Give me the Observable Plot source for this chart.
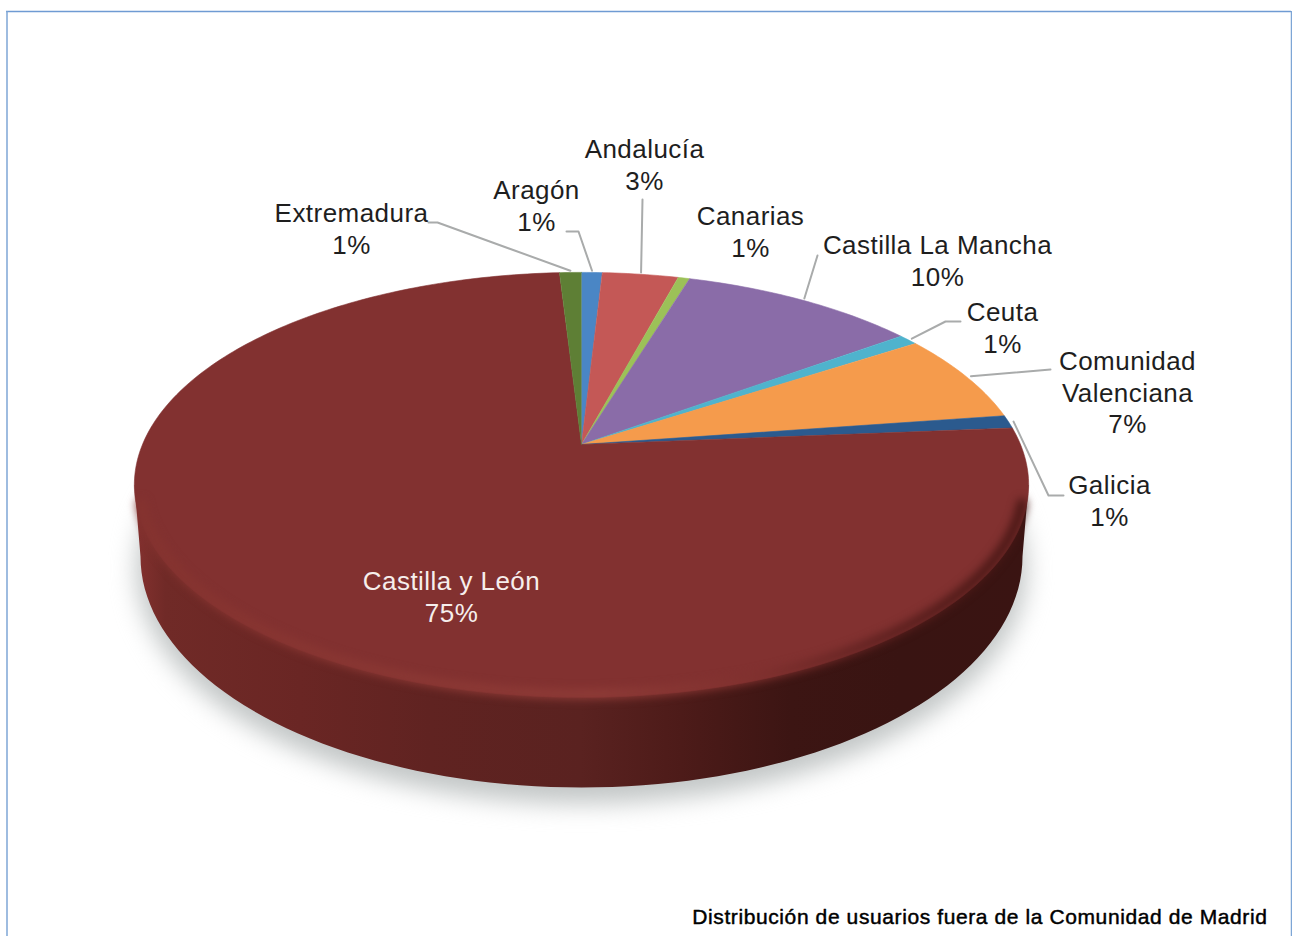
<!DOCTYPE html>
<html><head><meta charset="utf-8">
<script src="https://cdn.jsdelivr.net/npm/d3@7"></script>
<script src="https://cdn.jsdelivr.net/npm/@observablehq/plot@0.6"></script>
<style>html,body{margin:0;padding:0;background:#fff}svg{display:block}</style>
</head><body><div id="chart"></div>
<script>
// Data, clockwise from twelve o'clock
const categories = ["Aragón","Andalucía","Canarias","Castilla La Mancha","Ceuta","Comunidad\nValenciana","Galicia","Castilla y León","Extremadura"];
const shares = [0.9,3.3,0.5,10.3,0.85,6.85,1.0,75.35,0.95];
const sliceColors = ["#4a86c5","#c45856","#9cc158","#8a6ca8","#4fb3cd","#f59b4c","#2b5a8e","#823130","#5e7f35"];
const caption = "Distribución de usuarios fuera de la Comunidad de Madrid";

// Label layout, per category: label centre and leader elbows
const labelLayout = {
  "Aragón":{x:536,y:204,leader:[[578,231],[566,231]]},
  "Andalucía":{x:644,y:163,leader:[[642,199]]},
  "Canarias":{x:750,y:230,leader:[]},
  "Castilla La Mancha":{x:937,y:259,leader:[[817,255]]},
  "Ceuta":{x:1002,y:326,leader:[[945,321],[960,321]]},
  "Comunidad\nValenciana":{x:1127,y:391,leader:[[1050,369]]},
  "Galicia":{x:1109,y:499,leader:[[1048,495],[1063,495]]},
  "Castilla y León":{x:451,y:595.5,leader:[]},
  "Extremadura":{x:351,y:227,leader:[[437,222],[428,222]]}
};

// Perspective disc geometry
const W=1292,H=936;
const cx=581,cy=444,a=204.8,b=439,k=0.19;
const project=(t,r=1)=>{const X=r*Math.sin(t),Y=-r*Math.cos(t),w=1-k*Y;return {x:cx+b*X/w,y:cy+a*Y/w};};
const total=d3.sum(shares);
const rad=d=>d*Math.PI/180;
let acc=0;
const arcs=shares.map((v,i)=>{const start=acc/total*2*Math.PI;acc+=v;const end=acc/total*2*Math.PI;return {name:categories[i],value:v,start,end};});
const slicePts=arcs.flatMap(s=>{
  const n=Math.max(3,Math.ceil((s.end-s.start)/rad(1)));
  return [{name:s.name,x:cx,y:cy},...d3.range(n+1).map(i=>({name:s.name,...project(s.start+(s.end-s.start)*i/n)}))];
});
const leaders=arcs.flatMap(s=>{
  const l=labelLayout[s.name].leader; if(!l.length) return [];
  const p=project((s.start+s.end)/2,1.012);
  return [{name:s.name,...p},...l.map(([x,y])=>({name:s.name,x,y}))];
});
const labels=arcs.map(s=>({text:`${s.name}\n${Math.round(s.value)}%`,x:labelLayout[s.name].x,y:labelLayout[s.name].y,inner:s.name==="Castilla y León"}));

const botCy=556,botRx=441,botRy=231;
const bottomArc=d3.range(0,181,2).map(d=>({x:cx+botRx*Math.cos(rad(d)),y:botCy+botRy*Math.sin(rad(d))}));
const topWide={yy:484.5,rx:447};
const sidePoly=[{x:cx+topWide.rx,y:topWide.yy},...bottomArc,{x:cx-topWide.rx,y:topWide.yy}];
const shadowPoly=d3.range(0,361,3).map(d=>({x:cx+(botRx+4)*Math.cos(rad(d)),y:botCy+12+(botRy+4)*Math.sin(rad(d))}));
const bevel=d3.range(106,256,2).map(d=>({...project(rad(d),0.99)}));

const stop=(o,c)=>`<stop offset="${o}" stop-color="${c}"/>`;
function defs(){
  const g=document.createElementNS("http://www.w3.org/2000/svg","g");
  const sx=x=>((x-134)/894).toFixed(3);
  g.innerHTML=`<defs>
  <linearGradient id="sideGrad" gradientUnits="userSpaceOnUse" x1="134" x2="1028" y1="0" y2="0">
   ${[[134,"#84312f"],[165,"#702a27"],[300,"#6a2624"],[430,"#602321"],[580,"#5a2220"],[680,"#4d1b19"],[790,"#3c1513"],[900,"#391412"],[1028,"#3a1412"]].map(([x,c])=>stop(sx(x),c)).join("")}
  </linearGradient>
  <linearGradient id="bevelGrad" gradientUnits="userSpaceOnUse" x1="134" x2="1028" y1="0" y2="0">
   ${[[134,"#85332f"],[600,"#8e3b37"],[760,"#7f302e"],[880,"#5f2120"],[960,"#4f1a18"],[1028,"#491715"]].map(([x,c])=>stop(sx(x),c)).join("")}
  </linearGradient></defs>`;
  return g;
}
const spaced=ls=>(index,scales,values,dims,ctx,next)=>{const g=next(index,scales,values,dims,ctx);g.style.letterSpacing=ls;return g;};

const plot=Plot.plot({
  width:W,height:H,margin:0,
  x:{domain:[0,W],range:[0,W],axis:null},
  y:{domain:[0,H],range:[0,H],axis:null},
  color:{domain:categories,range:sliceColors},
  marks:[
    defs,
    Plot.ruleY([11],{x1:6,x2:1291,stroke:"#6f9bd3",strokeWidth:1.5}),
    Plot.ruleX([6.5,1291],{y1:11,y2:H,stroke:"#7ea6d6",strokeWidth:1.5}),
    Plot.line(shadowPoly,{x:"x",y:"y",fill:"#c2c6c6",stroke:"none",imageFilter:"blur(12px)"}),
    Plot.line(sidePoly,{x:"x",y:"y",fill:"url(#sideGrad)",stroke:"none"}),
    Plot.line(slicePts,{x:"x",y:"y",z:"name",fill:"name",stroke:"name",strokeWidth:0.6}),
    Plot.line(bevel,{x:"x",y:"y",stroke:"url(#bevelGrad)",strokeWidth:10,imageFilter:"blur(4px)"}),
    Plot.line(leaders,{x:"x",y:"y",z:"name",stroke:"#a9abab",strokeWidth:2}),
    Plot.text(labels.filter(d=>!d.inner),{x:"x",y:"y",text:"text",fontFamily:"Liberation Sans",fontSize:26,lineHeight:1.22,fill:"#1e1e1e",lineAnchor:"middle",render:spaced("0.45px")}),
    Plot.text(labels.filter(d=>d.inner),{x:"x",y:"y",text:"text",fontFamily:"Liberation Sans",fontSize:26,lineHeight:1.22,fill:"#f6eeec",lineAnchor:"middle",render:spaced("0.45px")}),
    Plot.text([caption],{x:1267,y:917,text:d=>d,textAnchor:"end",fontFamily:"Liberation Sans",fontSize:21,fontWeight:400,fill:"#000",stroke:"#000",strokeWidth:0.45,paintOrder:"fill",render:spaced("0.6px")})
  ]
});
document.getElementById("chart").append(plot);
</script></body></html>
